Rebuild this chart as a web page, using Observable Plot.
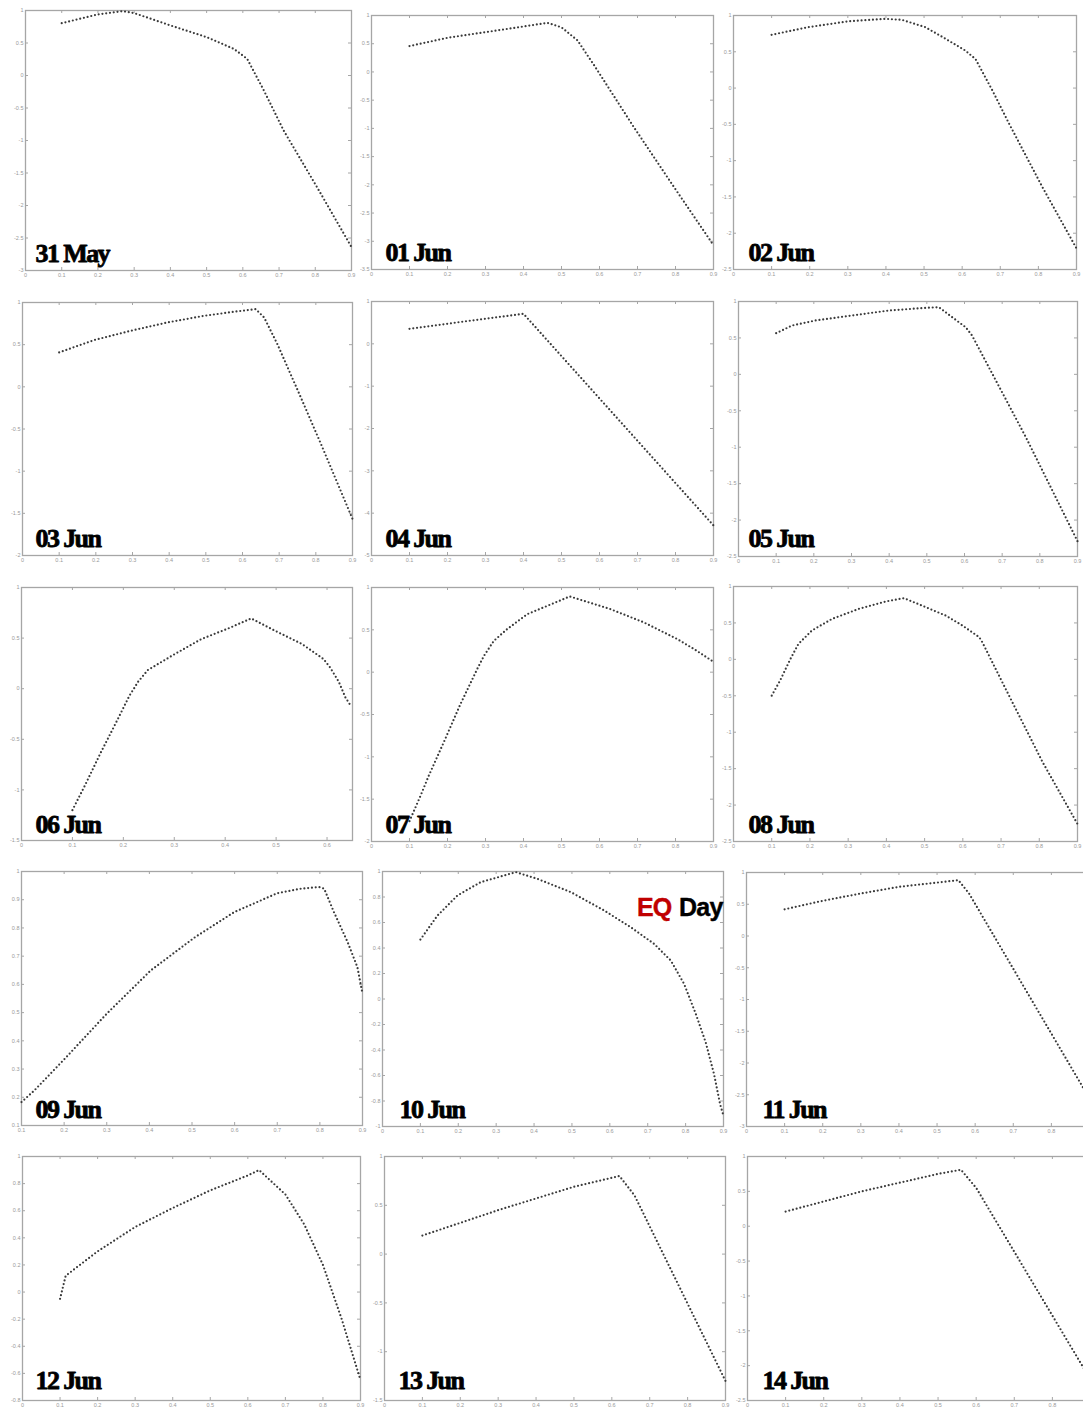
<!DOCTYPE html>
<html>
<head>
<meta charset="utf-8">
<script src="https://cdn.jsdelivr.net/npm/d3@7"></script>
<script src="https://cdn.jsdelivr.net/npm/@observablehq/plot@0.6"></script>
<style>
  html, body { margin: 0; padding: 0; background: #fff; overflow: hidden; }
  #grid { position: relative; width: 1083px; height: 1409px; overflow: hidden; background: #fff; }
  #grid svg { position: absolute; max-width: none; overflow: visible; background: transparent; }
  #grid g.day-label text { letter-spacing: -1.6px; }
  #grid g.eq-label text { letter-spacing: -0.8px; }
</style>
</head>
<body>
<div id="grid"></div>
<script>
// ---- daily curves (x: abscissa, y: value) ----
const may31X = [0.1, 0.2, 0.267, 0.3, 0.4, 0.5, 0.575, 0.612, 0.658, 0.713, 0.805, 0.9];
const may31Y = [0.805, 0.94, 0.99, 0.96, 0.77, 0.59, 0.41, 0.256, -0.23, -0.85, -1.72, -2.64];

const jun01X = [0.1, 0.2, 0.3, 0.4, 0.463, 0.5, 0.542, 0.586, 0.69, 0.796, 0.9];
const jun01Y = [0.458, 0.605, 0.705, 0.805, 0.87, 0.79, 0.56, 0.116, -0.975, -2.04, -3.07];

const jun02X = [0.1, 0.197, 0.302, 0.398, 0.442, 0.503, 0.556, 0.608, 0.635, 0.679, 0.723, 0.81, 0.9];
const jun02Y = [0.734, 0.84, 0.92, 0.954, 0.94, 0.84, 0.68, 0.518, 0.4, -0.03, -0.49, -1.36, -2.21];

const jun03X = [0.1, 0.195, 0.295, 0.395, 0.495, 0.582, 0.636, 0.659, 0.695, 0.759, 0.814, 0.9];
const jun03Y = [0.408, 0.554, 0.664, 0.763, 0.842, 0.893, 0.921, 0.822, 0.507, -0.125, -0.678, -1.566];

const jun04X = [0.1, 0.25, 0.4, 0.9];
const jun04Y = [0.354, 0.535, 0.709, -4.29];

const jun05X = [0.1, 0.142, 0.204, 0.301, 0.399, 0.497, 0.532, 0.567, 0.603, 0.62, 0.674, 0.763, 0.9];
const jun05Y = [0.565, 0.67, 0.739, 0.808, 0.876, 0.913, 0.922, 0.785, 0.647, 0.533, 0.006, -0.864, -2.29];

const jun06X = [0.1, 0.1235, 0.156, 0.186, 0.212, 0.221, 0.229, 0.248, 0.301, 0.353, 0.406, 0.451, 0.498, 0.551, 0.593, 0.606, 0.623, 0.636, 0.648];
const jun06Y = [-1.2, -0.967, -0.628, -0.332, -0.069, 0.003, 0.069, 0.184, 0.342, 0.49, 0.595, 0.694, 0.572, 0.441, 0.293, 0.21, 0.069, -0.086, -0.18];

const jun07X = [0.1, 0.129, 0.151, 0.19, 0.234, 0.278, 0.296, 0.322, 0.357, 0.41, 0.522, 0.629, 0.717, 0.805, 0.849, 0.9];
const jun07Y = [-1.76, -1.46, -1.22, -0.83, -0.378, 0.035, 0.193, 0.37, 0.508, 0.685, 0.894, 0.744, 0.587, 0.39, 0.272, 0.122];

const jun08X = [0.1, 0.122, 0.149, 0.17, 0.205, 0.258, 0.328, 0.398, 0.446, 0.503, 0.555, 0.599, 0.643, 0.651, 0.712, 0.809, 0.9];
const jun08Y = [-0.498, -0.29, 0.006, 0.212, 0.395, 0.556, 0.693, 0.794, 0.84, 0.716, 0.601, 0.464, 0.304, 0.235, -0.406, -1.414, -2.26];

const jun09X = [0.1, 0.13, 0.2, 0.3, 0.403, 0.505, 0.599, 0.7, 0.755, 0.798, 0.81, 0.833, 0.865, 0.888, 0.9];
const jun09Y = [0.183, 0.224, 0.334, 0.496, 0.649, 0.765, 0.856, 0.923, 0.939, 0.945, 0.939, 0.856, 0.75, 0.661, 0.567];

const jun10X = [0.1, 0.145, 0.198, 0.259, 0.352, 0.409, 0.497, 0.585, 0.655, 0.717, 0.761, 0.796, 0.827, 0.853, 0.875, 0.891, 0.9];
const jun10Y = [0.466, 0.654, 0.812, 0.916, 0.995, 0.942, 0.838, 0.694, 0.563, 0.432, 0.301, 0.118, -0.118, -0.34, -0.589, -0.825, -0.916];

const jun11X = [0.1, 0.199, 0.299, 0.4, 0.556, 0.584, 0.9];
const jun11Y = [0.42, 0.553, 0.668, 0.774, 0.879, 0.668, -2.56];

const jun12X = [0.1, 0.115, 0.2, 0.3, 0.4, 0.5, 0.6, 0.63, 0.7, 0.75, 0.8, 0.85, 0.9];
const jun12Y = [-0.05, 0.12, 0.3, 0.48, 0.62, 0.75, 0.86, 0.9, 0.72, 0.5, 0.2, -0.2, -0.65];

const jun13X = [0.1, 0.3, 0.5, 0.62, 0.66, 0.9];
const jun13Y = [0.19, 0.45, 0.69, 0.8, 0.6, -1.3];

const jun14X = [0.1, 0.3, 0.5, 0.56, 0.6, 0.9];
const jun14Y = [0.21, 0.5, 0.75, 0.81, 0.55, -2.2];

// ---- panel titles ----
const dayLabels = ["31 May", "01 Jun", "02 Jun", "03 Jun", "04 Jun", "05 Jun", "06 Jun", "07 Jun",
                   "08 Jun", "09 Jun", "10 Jun", "11 Jun", "12 Jun", "13 Jun", "14 Jun"];
const eqWord = "EQ";
const dayWord = "Day";

// ---- tick values ----
const xTicks09 = [0, 0.1, 0.2, 0.3, 0.4, 0.5, 0.6, 0.7, 0.8, 0.9];
const xTicks08 = [0, 0.1, 0.2, 0.3, 0.4, 0.5, 0.6, 0.7, 0.8];
const xTicks065 = [0, 0.1, 0.2, 0.3, 0.4, 0.5, 0.6];
const xTicksFrom01 = [0.1, 0.2, 0.3, 0.4, 0.5, 0.6, 0.7, 0.8, 0.9];
const yTicks3 = [1, 0.5, 0, -0.5, -1, -1.5, -2, -2.5, -3];
const yTicks35 = [1, 0.5, 0, -0.5, -1, -1.5, -2, -2.5, -3, -3.5];
const yTicks25 = [1, 0.5, 0, -0.5, -1, -1.5, -2, -2.5];
const yTicks2 = [1, 0.5, 0, -0.5, -1, -1.5, -2];
const yTicks5 = [1, 0, -1, -2, -3, -4, -5];
const yTicks15 = [1, 0.5, 0, -0.5, -1, -1.5];
const yTicksTenths = [1, 0.9, 0.8, 0.7, 0.6, 0.5, 0.4, 0.3, 0.2, 0.1];
const yTicksFifths = [1, 0.8, 0.6, 0.4, 0.2, 0, -0.2, -0.4, -0.6, -0.8, -1];
const yTicksFifths08 = [1, 0.8, 0.6, 0.4, 0.2, 0, -0.2, -0.4, -0.6, -0.8];

// ---- panel definitions: curve, domains, ticks and frame box [left, top, right, bottom] on the page ----
const panels = [
  {x: may31X, y: may31Y, xd: [0, 0.9], yd: [-3, 1],   xt: xTicks09, yt: yTicks3,  box: [25, 10, 351, 270]},
  {x: jun01X, y: jun01Y, xd: [0, 0.9], yd: [-3.5, 1], xt: xTicks09, yt: yTicks35, box: [371, 15, 713, 269]},
  {x: jun02X, y: jun02Y, xd: [0, 0.9], yd: [-2.5, 1], xt: xTicks09, yt: yTicks25, box: [733, 15, 1076, 269]},
  {x: jun03X, y: jun03Y, xd: [0, 0.9], yd: [-2, 1],   xt: xTicks09, yt: yTicks2,  box: [22, 302, 352, 555]},
  {x: jun04X, y: jun04Y, xd: [0, 0.9], yd: [-5, 1],   xt: xTicks09, yt: yTicks5,  box: [371, 301, 713, 555]},
  {x: jun05X, y: jun05Y, xd: [0, 0.9], yd: [-2.5, 1], xt: xTicks09, yt: yTicks25, box: [738, 301, 1077, 556]},
  {x: jun06X, y: jun06Y, xd: [0, 0.65], yd: [-1.5, 1], xt: xTicks065, yt: yTicks15, box: [21, 587, 352, 840]},
  {x: jun07X, y: jun07Y, xd: [0, 0.9], yd: [-2, 1],   xt: xTicks09, yt: yTicks2,  box: [371, 587, 713, 841]},
  {x: jun08X, y: jun08Y, xd: [0, 0.9], yd: [-2.5, 1], xt: xTicks09, yt: yTicks25, box: [733, 586, 1077, 841]},
  {x: jun09X, y: jun09Y, xd: [0.1, 0.9], yd: [0.1, 1], xt: xTicksFrom01, yt: yTicksTenths, box: [21, 871, 362, 1125]},
  {x: jun10X, y: jun10Y, xd: [0, 0.9], yd: [-1, 1],   xt: xTicks09, yt: yTicksFifths, box: [382, 871, 723, 1126], eq: true},
  {x: jun11X, y: jun11Y, xd: [0, 0.9], yd: [-3, 1],   xt: xTicks08, yt: yTicks3,  box: [746, 872, 1089, 1126]},
  {x: jun12X, y: jun12Y, xd: [0, 0.9], yd: [-0.8, 1], xt: xTicks09, yt: yTicksFifths08, box: [22, 1156, 360, 1400]},
  {x: jun13X, y: jun13Y, xd: [0, 0.9], yd: [-1.5, 1], xt: xTicks09, yt: yTicks15, box: [384, 1156, 725, 1400]},
  {x: jun14X, y: jun14Y, xd: [0, 0.9], yd: [-2.5, 1], xt: xTicks08, yt: yTicks25, box: [747, 1156, 1090, 1400]}
];

// title offsets inside each frame: [dx from left edge, baseline distance above bottom edge]
const labelOffsets = [[10, 9], [14, 9], [15, 9], [13, 9], [14, 9], [10, 10], [14, 8], [14, 9],
                      [15, 9], [14, 8], [17, 9], [16, 9], [13, 12], [14, 12], [15, 12]];

const fmt = d => String(+d.toFixed(2));
const frameGray = "#a6a6a6";
const tickTextGray = "#999";

const grid = document.getElementById("grid");
const ml = 16, mr = 4, mt = 4, mb = 11;

panels.forEach((p, i) => {
  const [L, T, R, B] = p.box;
  const W = R - L, H = B - T;
  const rows = p.x.map((x, k) => ({x, y: p.y[k]}));
  const [ldx, lup] = labelOffsets[i];
  const marks = [
    Plot.frame({stroke: frameGray, strokeWidth: 1.3}),
    Plot.axisX(p.xt, {anchor: "bottom", tickSize: 0, tickPadding: 3, fontSize: 5.5, color: tickTextGray, tickFormat: fmt, label: null}),
    Plot.axisY(p.yt, {anchor: "left", tickSize: 0, tickPadding: 2, fontSize: 5.5, color: tickTextGray, tickFormat: fmt, label: null}),
    // inward ticks on all four sides
    Plot.tickX(p.xt, {x: d => d, insetTop: H - 3, stroke: frameGray}),
    Plot.tickX(p.xt, {x: d => d, insetBottom: H - 3, stroke: frameGray}),
    Plot.tickY(p.yt, {y: d => d, insetRight: W - 3, stroke: frameGray}),
    Plot.tickY(p.yt, {y: d => d, insetLeft: W - 3, stroke: frameGray}),
    // the dotted curve
    Plot.line(rows, {x: "x", y: "y", stroke: "#3a3a3a", strokeWidth: 2.2, strokeDasharray: "0 3.8", strokeLinecap: "round"}),
    Plot.text([dayLabels[i]], {
      text: d => d, frameAnchor: "bottom-left", textAnchor: "start", lineAnchor: "bottom",
      dx: ldx, dy: -lup, fontFamily: "Liberation Serif", fontWeight: "bold", fontSize: 26,
      fill: "#000", stroke: "#000", strokeWidth: 0.8, className: "day-label"
    })
  ];
  if (p.eq) {
    marks.push(
      Plot.text([eqWord], {text: d => d, frameAnchor: "top-right", textAnchor: "end", lineAnchor: "bottom",
        dx: -52, dy: 44, fontFamily: "Liberation Sans", fontWeight: "bold", fontSize: 25,
        fill: "#c00000", stroke: "#c00000", strokeWidth: 0.4, className: "eq-label"}),
      Plot.text([dayWord], {text: d => d, frameAnchor: "top-right", textAnchor: "end", lineAnchor: "bottom",
        dx: -1, dy: 44, fontFamily: "Liberation Sans", fontWeight: "bold", fontSize: 25,
        fill: "#000", stroke: "#000", strokeWidth: 0.4, className: "eq-label"})
    );
  }
  const svg = Plot.plot({
    width: W + ml + mr,
    height: H + mt + mb,
    marginLeft: ml, marginRight: mr, marginTop: mt, marginBottom: mb,
    x: {domain: p.xd, label: null},
    y: {domain: p.yd, label: null},
    style: {fontFamily: "Liberation Sans", fontSize: "5.5px", background: "transparent", overflow: "visible"},
    marks
  });
  svg.style.left = (L - ml) + "px";
  svg.style.top = (T - mt) + "px";
  grid.appendChild(svg);
});
</script>
</body>
</html>
